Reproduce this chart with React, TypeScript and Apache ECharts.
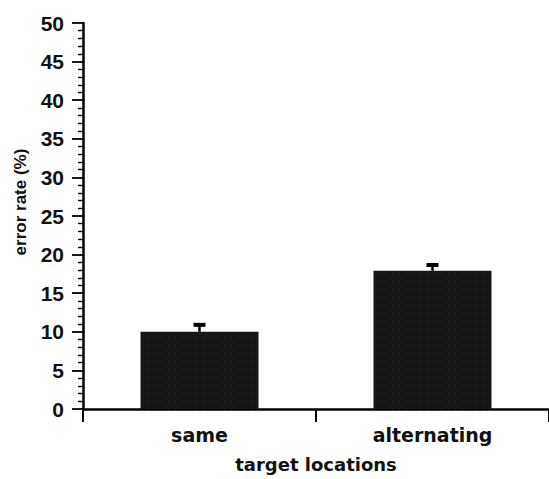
import React, { useEffect, useRef } from "react";
import * as echarts from "echarts";

const categories = ["same", "alternating"];
const errorRate = [10.0, 17.9];
const errorUpper = [10.9, 18.65];
const yTicks = [0, 5, 10, 15, 20, 25, 30, 35, 40, 45, 50];
const yAxisTitle = "error rate (%)";
const xAxisTitle = "target locations";

export default function App() {
  const ref = useRef<HTMLDivElement>(null);
  useEffect(() => {
    if (!ref.current) return;
    const chart = echarts.init(ref.current, undefined, { renderer: "svg" });
    const lib = "Liberation Sans, Arial, Helvetica, sans-serif";
    const deja = "DejaVu Sans, Verdana, sans-serif";
    chart.setOption({
      animation: false,
      backgroundColor: "#ffffff",
      aria: { enabled: true, decal: { show: true } },
      grid: { left: 83, top: 23, width: 466, height: 386, containLabel: false },
      xAxis: {
        type: "category",
        data: categories,
        name: xAxisTitle,
        nameLocation: "middle",
        nameGap: 46,
        nameTextStyle: { fontFamily: deja, fontSize: 18, fontWeight: "bold", color: "#111" },
        axisLine: { lineStyle: { color: "#000", width: 2.5 } },
        axisTick: { show: true, length: 13, lineStyle: { color: "#000", width: 2 } },
        axisLabel: { fontFamily: deja, fontSize: 19, fontWeight: "bold", color: "#111", margin: 16 },
        splitLine: { show: false },
      },
      yAxis: {
        type: "value",
        min: yTicks[0],
        max: yTicks[yTicks.length - 1],
        interval: 5,
        name: yAxisTitle,
        nameLocation: "middle",
        nameGap: 54,
        nameTextStyle: {
          fontFamily: lib,
          fontSize: 17,
          fontWeight: "bold",
          color: "#111",
          padding: [0, 0, 0, 28],
        },
        axisLine: { show: true, lineStyle: { color: "#000", width: 2.5 } },
        axisTick: { show: true, length: 11, lineStyle: { color: "#000", width: 1.8 } },
        minorTick: { show: true, splitNumber: 5, length: 5, lineStyle: { color: "#000", width: 1.4 } },
        axisLabel: { fontFamily: lib, fontSize: 21, fontWeight: "bold", color: "#111", margin: 19 },
        splitLine: { show: false },
      },
      series: [
        {
          type: "bar",
          data: errorRate,
          barWidth: 118,
          itemStyle: {
            color: "#161616",
            decal: {
              symbol: "rect",
              symbolSize: 0.3,
              dashArrayX: [1, 6],
              dashArrayY: [1, 7],
              color: "rgba(255,255,255,0.6)",
              rotation: 0,
            },
          },
          z: 2,
        },
        {
          type: "custom",
          data: categories.map((c, i) => [i, errorRate[i], errorUpper[i]]),
          renderItem: (params: any, api: any) => {
            const low = api.coord([api.value(0), api.value(1)]);
            const high = api.coord([api.value(0), api.value(2)]);
            const x = low[0];
            return {
              type: "group",
              children: [
                {
                  type: "line",
                  shape: { x1: x, y1: low[1], x2: x, y2: high[1] },
                  style: { stroke: "#000", lineWidth: 2.5 },
                },
                {
                  type: "line",
                  shape: { x1: x - 6, y1: high[1], x2: x + 6, y2: high[1] },
                  style: { stroke: "#000", lineWidth: 4 },
                },
              ],
            };
          },
          z: 3,
        },
      ],
    });
    return () => chart.dispose();
  }, []);
  return <div ref={ref} style={{ width: 549, height: 479, position: "absolute", left: 0, top: 0 }} />;
}
